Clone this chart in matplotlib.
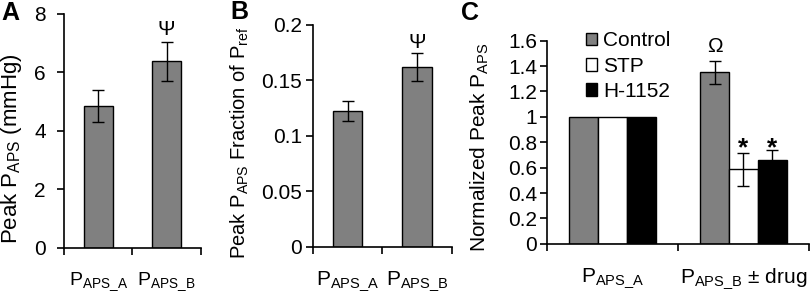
import matplotlib
matplotlib.use("Agg")
import matplotlib.pyplot as plt
from matplotlib.patches import Patch

plt.rcParams['font.family'] = ['Liberation Sans', 'DejaVu Sans']
plt.rcParams['mathtext.fontset'] = 'custom'
plt.rcParams['mathtext.rm'] = 'Liberation Sans'
plt.rcParams['mathtext.it'] = 'Liberation Sans:italic'
plt.rcParams['mathtext.bf'] = 'Liberation Sans:bold'

# Panel A
a_cats = [r'$\mathregular{P_{APS\_A}}$', r'$\mathregular{P_{APS\_B}}$']
a_vals = [4.85, 6.38]
a_errs = [0.56, 0.67]
a_ticks = [0, 2, 4, 6, 8]
a_ylabel = r'Peak $\mathregular{P_{APS}}$ (mmHg)'

# Panel B
b_cats = [r'$\mathregular{P_{APS\_A}}$', r'$\mathregular{P_{APS\_B}}$']
b_vals = [0.122, 0.162]
b_errs = [0.009, 0.0128]
b_ticks = [0, 0.05, 0.1, 0.15, 0.2]
b_ticklabels = ['0', '0.05', '0.1', '0.15', '0.2']
b_ylabel = r'Peak $\mathregular{P_{APS}}$ Fraction of $\mathregular{P_{ref}}$'

# Panel C
c_cats = [r'$\mathregular{P_{APS\_A}}$', r'$\mathregular{P_{APS\_B}}$ ± drug']
c_series = ['Control', 'STP', 'H-1152']
c_control = [1.0, 1.352]
c_stp = [1.0, 0.586]
c_h1152 = [1.0, 0.659]
c_control_err = [0, 0.09]
c_stp_err = [0, 0.133]
c_h1152_err = [0, 0.08]
c_ticks = [0, 0.2, 0.4, 0.6, 0.8, 1, 1.2, 1.4, 1.6]
c_ticklabels = ['0', '0.2', '0.4', '0.6', '0.8', '1', '1.2', '1.4', '1.6']
c_ylabel = r'Normalized Peak $\mathregular{P_{APS}}$'

GRAY = '#808080'

fig = plt.figure(figsize=(8.1, 2.93), dpi=100)


def style_axes(ax, fs_tick, ypad, xpad=16):
    ax.spines['top'].set_visible(False)
    ax.spines['right'].set_visible(False)
    for s in ['left', 'bottom']:
        ax.spines[s].set_linewidth(1.2)
    ax.tick_params(axis='y', direction='out', length=5, width=1.2, labelsize=fs_tick, pad=ypad)
    ax.tick_params(axis='x', which='major', length=0, pad=xpad)
    ax.tick_params(axis='x', which='minor', direction='out', length=5, width=1.2)


x = [0, 1]

# ---------- A ----------
axA = fig.add_axes([0.079, 0.1536, 0.169, 0.799])
axA.bar(x, a_vals, width=0.42, color=GRAY, edgecolor='black', linewidth=1.0, zorder=2)
axA.errorbar(x, a_vals, yerr=a_errs, fmt='none', ecolor='black', elinewidth=1.0, capsize=4, capthick=1.0, zorder=3)
axA.set_xlim(-0.5, 1.5)
axA.set_ylim(0, 8)
axA.set_yticks(a_ticks)
axA.set_xticks(x)
axA.set_xticklabels(a_cats, fontsize=14)
axA.set_xticks([-0.5, 0.5, 1.5], minor=True)
style_axes(axA, 15, 8)
fig.text(12 / 810, 1 - 149 / 293, a_ylabel, rotation=90, ha='center', va='center', fontsize=16)
axA.text(1, a_vals[1] + a_errs[1] + 0.23, 'Ψ', ha='center', va='baseline', fontsize=15)
fig.text(0.002, 0.995, 'A', fontsize=18, fontweight='bold', va='top', ha='left')

# ---------- B ----------
axB = fig.add_axes([0.3864, 0.158, 0.1713, 0.7567])
axB.bar(x, b_vals, width=0.42, color=GRAY, edgecolor='black', linewidth=1.0, zorder=2)
axB.errorbar(x, b_vals, yerr=b_errs, fmt='none', ecolor='black', elinewidth=1.0, capsize=4, capthick=1.0, zorder=3)
axB.set_xlim(-0.5, 1.5)
axB.set_ylim(0, 0.2)
axB.set_yticks(b_ticks)
axB.set_yticklabels(b_ticklabels)
axB.set_xticks(x)
axB.set_xticklabels(b_cats, fontsize=15)
axB.set_xticks([-0.5, 0.5, 1.5], minor=True)
style_axes(axB, 15, 3)
fig.text(240 / 810, 1 - 143 / 293, b_ylabel, rotation=90, ha='center', va='center', fontsize=14.5)
axB.text(1, b_vals[1] + b_errs[1] + 0.0045, 'Ψ', ha='center', va='baseline', fontsize=15)
fig.text(0.285, 0.999, 'B', fontsize=18, fontweight='bold', va='top', ha='left')

# ---------- C ----------
axC = fig.add_axes([0.675, 0.168, 0.3238, 0.693])
w = 0.22
colors = [GRAY, 'white', 'black']
vals = [c_control, c_stp, c_h1152]
errs = [c_control_err, c_stp_err, c_h1152_err]
for i, (v, e, col, lab) in enumerate(zip(vals, errs, colors, c_series)):
    xs = [xx + (i - 1) * w for xx in x]
    axC.bar(xs, v, width=w, color=col, edgecolor='black', linewidth=1.0, zorder=2, label=lab)
    axC.errorbar(xs[1:], v[1:], yerr=e[1:], fmt='none', ecolor='black', elinewidth=1.0,
                 capsize=4, capthick=1.0, zorder=3)
axC.set_xlim(-0.5, 1.5)
axC.set_ylim(0, 1.6)
axC.set_yticks(c_ticks)
axC.set_yticklabels(c_ticklabels)
axC.set_xticks(x)
axC.set_xticklabels(c_cats, fontsize=15)
axC.set_xticks([-0.5, 0.5, 1.5], minor=True)
style_axes(axC, 15, 2)
fig.text(480 / 810, 1 - 147.5 / 293, c_ylabel, rotation=90, ha='center', va='center', fontsize=15)
axC.text(1 - w, c_control[1] + c_control_err[1] + 0.067, 'Ω', ha='center', va='baseline', fontsize=15)
ast_y = max(c_stp[1] + c_stp_err[1], c_h1152[1] + c_h1152_err[1]) - 0.045
axC.text(1, ast_y, '*', ha='center', va='baseline', fontsize=19, fontweight='bold')
axC.text(1 + w, ast_y, '*', ha='center', va='baseline', fontsize=19, fontweight='bold')
handles = [Patch(facecolor=c, edgecolor='black', linewidth=1.0) for c in colors]
fig.legend(handles, c_series, loc='upper left', bbox_to_anchor=(0.724, 0.893),
           bbox_transform=fig.transFigure, frameon=False, borderpad=0,
           fontsize=15, handlelength=0.5, handleheight=0.55, handletextpad=0.3, labelspacing=0.3,
           borderaxespad=0)
fig.text(0.569, 0.995, 'C', fontsize=18, fontweight='bold', va='top', ha='left')

fig.savefig('out.png', dpi=100)
